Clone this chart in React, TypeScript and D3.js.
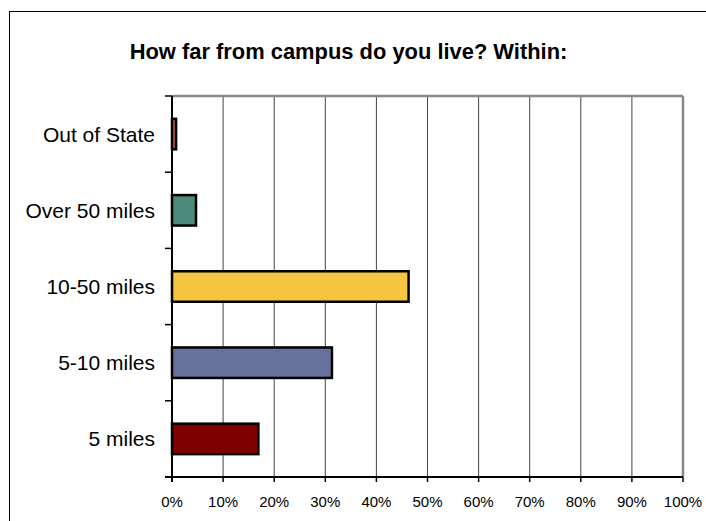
import React from "react";
import * as d3 from "d3";

const categories = ["Out of State", "Over 50 miles", "10-50 miles", "5-10 miles", "5 miles"];
const values = [0.8, 4.7, 46.3, 31.3, 16.9];
const colors = ["#c0504d", "#4b8a7b", "#f5c542", "#66729c", "#800000"];
const xTicks = [0, 10, 20, 30, 40, 50, 60, 70, 80, 90, 100];
const title = "How far from campus do you live? Within:";

export default function App() {
  const W = 706, H = 521;
  const left = 172, right = 683, top = 96, bottom = 477;
  const x = d3.scaleLinear().domain([0, 100]).range([left, right]);
  const y = d3.scaleBand<string>().domain(categories).range([top, bottom]).paddingInner(0.6).paddingOuter(0.3);
  const step = y.step();
  const bounds = d3.range(categories.length + 1).map((i) => top + i * step);
  const font = "Arial, 'Liberation Sans', Helvetica, sans-serif";
  return (
    <svg width={W} height={H} style={{ position: "absolute", left: 0, top: 0 }} fontFamily={font}>
      <rect x={0} y={0} width={W} height={H} fill="#fff" />
      <rect x={9.5} y={11.5} width={W + 20} height={H + 20} fill="none" stroke="#000" strokeWidth={1} />
      <text x={348.5} y={59} textAnchor="middle" fontWeight="bold" fontSize={21.9} fill="#000">{title}</text>
      {xTicks.slice(1, -1).map((t) => (
        <line key={t} x1={x(t)} x2={x(t)} y1={top} y2={bottom} stroke="#444" strokeWidth={1} />
      ))}
      <line x1={left} x2={right} y1={top} y2={top} stroke="#888" strokeWidth={2.5} />
      <line x1={right} x2={right} y1={top} y2={bottom} stroke="#888" strokeWidth={2.5} />
      {categories.map((c, i) => (
        <rect key={c} x={x(0)} y={y(c)!} width={x(values[i]) - x(0)} height={y.bandwidth()}
          fill={colors[i]} stroke="#000" strokeWidth={2.5} />
      ))}
      <line x1={left} x2={left} y1={top} y2={bottom + 5} stroke="#000" strokeWidth={2} />
      <line x1={left - 7} x2={right} y1={bottom} y2={bottom} stroke="#000" strokeWidth={2} />
      {bounds.map((b, i) => (
        <line key={i} x1={left - 7} x2={left} y1={b} y2={b} stroke="#000" strokeWidth={1.5} />
      ))}
      {xTicks.map((t) => (
        <line key={t} x1={x(t)} x2={x(t)} y1={bottom} y2={bottom + 5} stroke="#000" strokeWidth={1.5} />
      ))}
      {categories.map((c) => (
        <text key={c} x={155} y={y(c)! + y.bandwidth() / 2} dy="0.36em" textAnchor="end" fontSize={21} fill="#000">{c}</text>
      ))}
      {xTicks.map((t) => (
        <text key={t} x={x(t)} y={507} textAnchor="middle" fontSize={15} fill="#000">{t + "%"}</text>
      ))}
    </svg>
  );
}
